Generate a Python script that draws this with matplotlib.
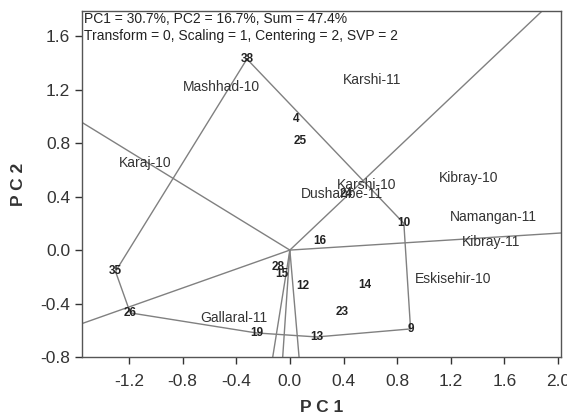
import numpy as np
import matplotlib
matplotlib.use("Agg")
import matplotlib.pyplot as plt

plt.rcParams['font.family'] = ['Liberation Sans', 'DejaVu Sans']

# genotype scores (PC1, PC2)
gen_names = ['38', '4', '25', '24', '10', '16', '28', '15', '12', '14', '23',
             '9', '13', '19', '26', '35']
gen_pc1 = [-0.32, 0.05, 0.08, 0.42, 0.85, 0.22, -0.09, -0.06, 0.10, 0.56, 0.39,
           0.90, 0.20, -0.25, -1.19, -1.30]
gen_pc2 = [1.43, 0.98, 0.82, 0.42, 0.20, 0.07, -0.13, -0.18, -0.27, -0.26, -0.46,
           -0.59, -0.65, -0.62, -0.47, -0.16]

# polygon vertices (winners), in order
hull = ['38', '10', '9', '13', '19', '26', '35']

# environment scores
env_names = ['Mashhad-10', 'Karshi-11', 'Karaj-10', 'Karshi-10', 'Dushanbe-11',
             'Kibray-10', 'Namangan-11', 'Kibray-11', 'Eskisehir-10', 'Gallaral-11']
env_pc1 = [-0.51, 0.61, -1.08, 0.57, 0.39, 1.33, 1.52, 1.50, 1.22, -0.42]
env_pc2 = [1.22, 1.27, 0.65, 0.49, 0.42, 0.54, 0.25, 0.06, -0.22, -0.51]

fig = plt.figure(figsize=(5.67, 4.19), dpi=100)
ax = fig.add_axes([0.1446, 0.148, 0.8444, 0.826])

line_col = '#808080'
pos = {n: (x, y) for n, x, y in zip(gen_names, gen_pc1, gen_pc2)}
hx = [pos[n][0] for n in hull] + [pos[hull[0]][0]]
hy = [pos[n][1] for n in hull] + [pos[hull[0]][1]]
ax.plot(hx, hy, color=line_col, lw=1.0)

# rays from origin perpendicular to each polygon side
for i in range(len(hull)):
    x1, y1 = pos[hull[i]]
    x2, y2 = pos[hull[(i + 1) % len(hull)]]
    dx, dy = x2 - x1, y2 - y1
    t = -(x1 * dx + y1 * dy) / (dx * dx + dy * dy)
    px, py = x1 + t * dx, y1 + t * dy
    n = np.hypot(px, py)
    ax.plot([0, px / n * 10], [0, py / n * 10], color=line_col, lw=1.0)

for n, x, y in zip(gen_names, gen_pc1, gen_pc2):
    ax.text(x, y, n, fontsize=8.5, ha='center', va='center', color='#222222',
            fontweight='bold', fontstretch='condensed')

for n, x, y in zip(env_names, env_pc1, env_pc2):
    ax.text(x, y, n, fontsize=10, ha='center', va='center', color='#333333')

ax.text(0.005, 0.997, 'PC1 = 30.7%, PC2 = 16.7%, Sum = 47.4%\n'
        'Transform = 0, Scaling = 1, Centering = 2, SVP = 2',
        transform=ax.transAxes, fontsize=10, va='top', ha='left', color='#222222',
        linespacing=1.3)

ax.set_xlim(-1.55, 2.02)
ax.set_ylim(-0.80, 1.79)
ax.set_xticks(np.arange(-1.2, 2.01, 0.4))
ax.set_yticks(np.arange(-0.8, 1.61, 0.4))
ax.xaxis.set_major_formatter(plt.FormatStrFormatter('%.1f'))
ax.yaxis.set_major_formatter(plt.FormatStrFormatter('%.1f'))
ax.tick_params(labelsize=12.5, colors='#333333', direction='out', length=5, width=1)
ax.tick_params(axis='x', pad=7)
for s in ax.spines.values():
    s.set_color('#555555')
    s.set_linewidth(1.0)

ax.set_xlabel('P C 1', fontsize=12.5, fontweight='bold', color='#333333', labelpad=8)
ax.set_ylabel('P C 2', fontsize=12.5, fontweight='bold', color='#333333', labelpad=10)

fig.savefig('out.png', dpi=100)
